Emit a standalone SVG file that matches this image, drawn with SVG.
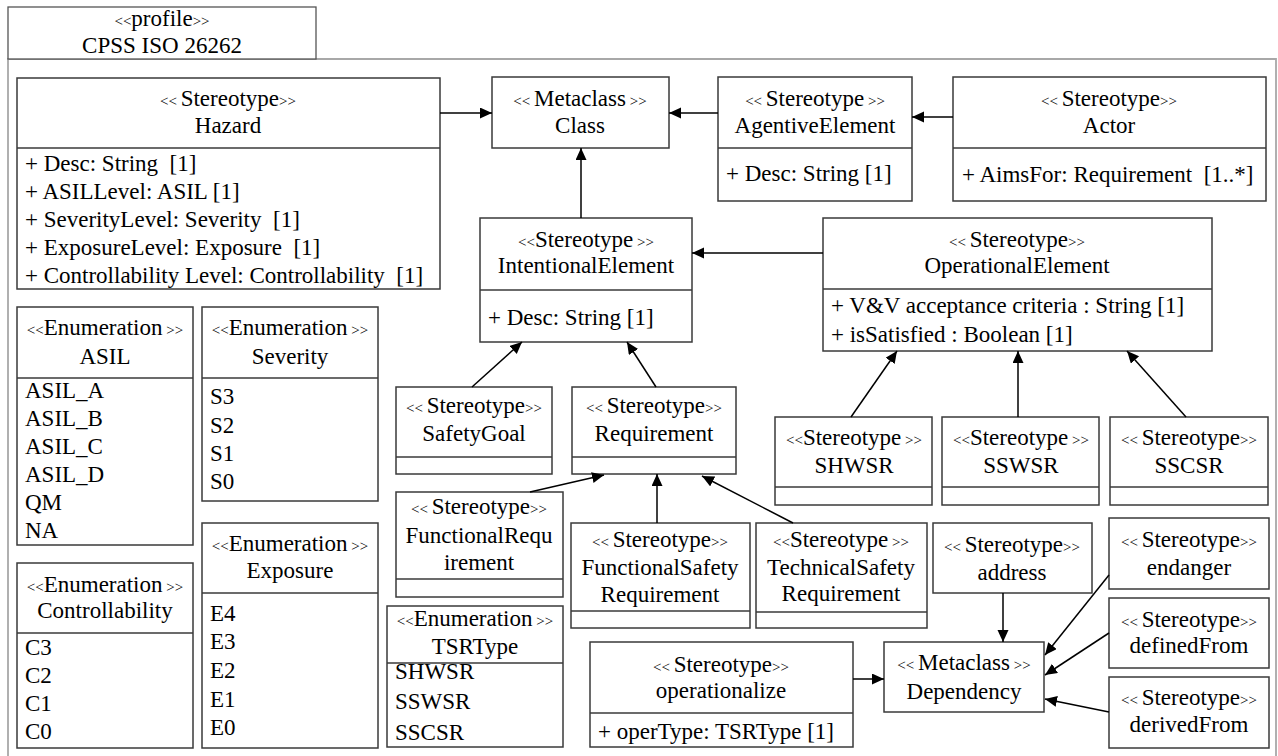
<svg xmlns="http://www.w3.org/2000/svg" width="1278" height="756" viewBox="0 0 1278 756">
<style>
.c{text-anchor:middle}
.s{font-size:15px}
.box{fill:#fff;stroke:#3a3a3a;stroke-width:1.5}
.div{stroke:#3a3a3a;stroke-width:1.5}
.frame{fill:none;stroke:#a8a8a8;stroke-width:1.8}
.conn line{stroke:#000;stroke-width:1.5;marker-end:url(#ah)}
</style>
<defs>
<marker id="ah" markerWidth="13" markerHeight="12" refX="12" refY="5.5" orient="auto" markerUnits="userSpaceOnUse">
<path d="M0,0 L12,5.5 L0,11 z" fill="#000"/>
</marker>
</defs>
<rect width="1278" height="756" fill="#fff"/>
<g font-family="Liberation Serif, Times New Roman, serif" font-size="23" fill="#000">
<g id="profile">
<path class="frame" d="M8,758 V59 H1276 V758"/>
<rect x="8" y="7" width="308" height="52" fill="#fff" stroke="#555" stroke-width="1.3"/>
<text class="c" x="162" y="26"><tspan class="s">&lt;&lt;</tspan>profile<tspan class="s">&gt;&gt;</tspan></text>
<text class="c" x="162" y="53">CPSS ISO 26262</text>
</g>
<g id="Hazard">
<rect class="box" x="17" y="78" width="423" height="211"/>
<line class="div" x1="17" y1="148" x2="440" y2="148"/>
<text class="c" x="228" y="106"><tspan class="s">&lt;&lt; </tspan>Stereotype<tspan class="s">&gt;&gt;</tspan></text>
<text class="c" x="228" y="133">Hazard</text>
<text x="25" y="171" xml:space="preserve">+ Desc: String  [1]</text>
<text x="25" y="198.5">+ ASILLevel: ASIL [1]</text>
<text x="25" y="226.5" xml:space="preserve">+ SeverityLevel: Severity  [1]</text>
<text x="25" y="254.5" xml:space="preserve">+ ExposureLevel: Exposure  [1]</text>
<text x="25" y="282.5" xml:space="preserve">+ Controllability Level: Controllability  [1]</text>
</g>
<g id="Class">
<rect class="box" x="492" y="77" width="177" height="71"/>
<text class="c" x="580" y="106"><tspan class="s">&lt;&lt; </tspan>Metaclass<tspan class="s"> &gt;&gt;</tspan></text>
<text class="c" x="580" y="133">Class</text>
</g>
<g id="AgentiveElement">
<rect class="box" x="718" y="77" width="194" height="124"/>
<line class="div" x1="718" y1="148" x2="912" y2="148"/>
<text class="c" x="815" y="106"><tspan class="s">&lt;&lt; </tspan>Stereotype<tspan class="s"> &gt;&gt;</tspan></text>
<text class="c" x="815" y="133">AgentiveElement</text>
<text x="726" y="181">+ Desc: String [1]</text>
</g>
<g id="Actor">
<rect class="box" x="953" y="77" width="313" height="124"/>
<line class="div" x1="953" y1="148" x2="1266" y2="148"/>
<text class="c" x="1109" y="106"><tspan class="s">&lt;&lt; </tspan>Stereotype<tspan class="s">&gt;&gt;</tspan></text>
<text class="c" x="1109" y="133">Actor</text>
<text x="962" y="182" xml:space="preserve">+ AimsFor: Requirement  [1..*]</text>
</g>
<g id="IntentionalElement">
<rect class="box" x="480" y="218" width="212" height="124"/>
<line class="div" x1="480" y1="290" x2="692" y2="290"/>
<text class="c" x="586" y="247"><tspan class="s">&lt;&lt;</tspan>Stereotype<tspan class="s"> &gt;&gt;</tspan></text>
<text class="c" x="586" y="273">IntentionalElement</text>
<text x="488" y="325">+ Desc: String [1]</text>
</g>
<g id="OperationalElement">
<rect class="box" x="823" y="218" width="389" height="133"/>
<line class="div" x1="823" y1="289" x2="1212" y2="289"/>
<text class="c" x="1017" y="247"><tspan class="s">&lt;&lt; </tspan>Stereotype<tspan class="s">&gt;&gt;</tspan></text>
<text class="c" x="1017" y="273">OperationalElement</text>
<text x="831" y="313">+ V&amp;V acceptance criteria : String [1]</text>
<text x="831" y="342">+ isSatisfied : Boolean [1]</text>
</g>
<g id="ASIL">
<rect class="box" x="17" y="307" width="176" height="238"/>
<line class="div" x1="17" y1="378" x2="193" y2="378"/>
<text class="c" x="105" y="335"><tspan class="s">&lt;&lt;</tspan>Enumeration<tspan class="s"> &gt;&gt;</tspan></text>
<text class="c" x="105" y="364">ASIL</text>
<text x="25" y="398">ASIL_A</text>
<text x="25" y="426">ASIL_B</text>
<text x="25" y="454">ASIL_C</text>
<text x="25" y="482">ASIL_D</text>
<text x="25" y="510">QM</text>
<text x="25" y="538">NA</text>
</g>
<g id="Severity">
<rect class="box" x="202" y="307" width="176" height="194"/>
<line class="div" x1="202" y1="378" x2="378" y2="378"/>
<text class="c" x="290" y="335"><tspan class="s">&lt;&lt;</tspan>Enumeration<tspan class="s"> &gt;&gt;</tspan></text>
<text class="c" x="290" y="364">Severity</text>
<text x="210" y="404">S3</text>
<text x="210" y="433">S2</text>
<text x="210" y="461">S1</text>
<text x="210" y="489">S0</text>
</g>
<g id="Controllability">
<rect class="box" x="17" y="563" width="176" height="185"/>
<line class="div" x1="17" y1="633" x2="193" y2="633"/>
<text class="c" x="105" y="592"><tspan class="s">&lt;&lt;</tspan>Enumeration<tspan class="s"> &gt;&gt;</tspan></text>
<text class="c" x="105" y="618">Controllability</text>
<text x="25" y="655">C3</text>
<text x="25" y="683">C2</text>
<text x="25" y="711">C1</text>
<text x="25" y="739">C0</text>
</g>
<g id="Exposure">
<rect class="box" x="202" y="523" width="176" height="225"/>
<line class="div" x1="202" y1="593" x2="378" y2="593"/>
<text class="c" x="290" y="551"><tspan class="s">&lt;&lt;</tspan>Enumeration<tspan class="s"> &gt;&gt;</tspan></text>
<text class="c" x="290" y="578">Exposure</text>
<text x="210" y="621">E4</text>
<text x="210" y="649">E3</text>
<text x="210" y="678">E2</text>
<text x="210" y="707">E1</text>
<text x="210" y="735">E0</text>
</g>
<g id="SafetyGoal">
<rect class="box" x="396" y="387" width="156" height="87"/>
<line class="div" x1="396" y1="457" x2="552" y2="457"/>
<text class="c" x="474" y="413"><tspan class="s">&lt;&lt; </tspan>Stereotype<tspan class="s">&gt;&gt;</tspan></text>
<text class="c" x="474" y="441">SafetyGoal</text>
</g>
<g id="Requirement">
<rect class="box" x="572" y="387" width="164" height="87"/>
<line class="div" x1="572" y1="457" x2="736" y2="457"/>
<text class="c" x="654" y="413"><tspan class="s">&lt;&lt; </tspan>Stereotype<tspan class="s">&gt;&gt;</tspan></text>
<text class="c" x="654" y="441">Requirement</text>
</g>
<g id="FunctionalRequirement">
<rect class="box" x="396" y="492" width="167" height="105"/>
<line class="div" x1="396" y1="579" x2="563" y2="579"/>
<text class="c" x="479" y="514"><tspan class="s">&lt;&lt; </tspan>Stereotype<tspan class="s">&gt;&gt;</tspan></text>
<text class="c" x="479" y="543">FunctionalRequ</text>
<text class="c" x="479" y="570">irement</text>
</g>
<g id="FunctionalSafetyRequirement">
<rect class="box" x="571" y="523" width="179" height="105"/>
<line class="div" x1="571" y1="611" x2="750" y2="611"/>
<text class="c" x="660" y="547"><tspan class="s">&lt;&lt; </tspan>Stereotype<tspan class="s">&gt;&gt;</tspan></text>
<text class="c" x="660" y="575">FunctionalSafety</text>
<text class="c" x="660" y="602">Requirement</text>
</g>
<g id="TechnicalSafetyRequirement">
<rect class="box" x="756" y="523" width="171" height="105"/>
<line class="div" x1="756" y1="612" x2="927" y2="612"/>
<text class="c" x="841" y="547"><tspan class="s">&lt;&lt;</tspan>Stereotype<tspan class="s"> &gt;&gt;</tspan></text>
<text class="c" x="841" y="575">TechnicalSafety</text>
<text class="c" x="841" y="601">Requirement</text>
</g>
<g id="SHWSR">
<rect class="box" x="775" y="417" width="157" height="88"/>
<line class="div" x1="775" y1="487" x2="932" y2="487"/>
<text class="c" x="854" y="445"><tspan class="s">&lt;&lt;</tspan>Stereotype<tspan class="s"> &gt;&gt;</tspan></text>
<text class="c" x="854" y="473">SHWSR</text>
</g>
<g id="SSWSR">
<rect class="box" x="942" y="417" width="157" height="88"/>
<line class="div" x1="942" y1="487" x2="1099" y2="487"/>
<text class="c" x="1021" y="445"><tspan class="s">&lt;&lt;</tspan>Stereotype<tspan class="s"> &gt;&gt;</tspan></text>
<text class="c" x="1021" y="473">SSWSR</text>
</g>
<g id="SSCSR">
<rect class="box" x="1110" y="417" width="158" height="88"/>
<line class="div" x1="1110" y1="487" x2="1268" y2="487"/>
<text class="c" x="1189" y="445"><tspan class="s">&lt;&lt; </tspan>Stereotype<tspan class="s">&gt;&gt;</tspan></text>
<text class="c" x="1189" y="473">SSCSR</text>
</g>
<g id="address">
<rect class="box" x="933" y="523" width="159" height="70"/>
<text class="c" x="1012" y="552"><tspan class="s">&lt;&lt; </tspan>Stereotype<tspan class="s">&gt;&gt;</tspan></text>
<text class="c" x="1012" y="580">address</text>
</g>
<g id="endanger">
<rect class="box" x="1109" y="518" width="160" height="71"/>
<text class="c" x="1189" y="547"><tspan class="s">&lt;&lt; </tspan>Stereotype<tspan class="s">&gt;&gt;</tspan></text>
<text class="c" x="1189" y="575">endanger</text>
</g>
<g id="definedFrom">
<rect class="box" x="1109" y="598" width="160" height="70"/>
<text class="c" x="1189" y="627"><tspan class="s">&lt;&lt; </tspan>Stereotype<tspan class="s">&gt;&gt;</tspan></text>
<text class="c" x="1189" y="653">definedFrom</text>
</g>
<g id="derivedFrom">
<rect class="box" x="1109" y="677" width="160" height="71"/>
<text class="c" x="1189" y="705"><tspan class="s">&lt;&lt; </tspan>Stereotype<tspan class="s">&gt;&gt;</tspan></text>
<text class="c" x="1189" y="732">derivedFrom</text>
</g>
<g id="Dependency">
<rect class="box" x="884" y="642" width="160" height="70"/>
<text class="c" x="964" y="670"><tspan class="s">&lt;&lt; </tspan>Metaclass<tspan class="s"> &gt;&gt;</tspan></text>
<text class="c" x="964" y="699">Dependency</text>
</g>
<g id="operationalize">
<rect class="box" x="590" y="642" width="263" height="105"/>
<line class="div" x1="590" y1="713" x2="853" y2="713"/>
<text class="c" x="721" y="672"><tspan class="s">&lt;&lt; </tspan>Stereotype<tspan class="s">&gt;&gt;</tspan></text>
<text class="c" x="721" y="698">operationalize</text>
<text x="598" y="739">+ operType: TSRType [1]</text>
</g>
<g id="TSRType">
<rect class="box" x="387" y="606" width="176" height="141"/>
<line class="div" x1="387" y1="663" x2="563" y2="663"/>
<text class="c" x="475" y="626"><tspan class="s">&lt;&lt;</tspan>Enumeration<tspan class="s"> &gt;&gt;</tspan></text>
<text class="c" x="475" y="654">TSRType</text>
<text x="395" y="679">SHWSR</text>
<text x="395" y="709">SSWSR</text>
<text x="395" y="740">SSCSR</text>
</g>
</g>
<g id="connectors" class="conn">
<line x1="440" y1="113" x2="492" y2="113"/>
<line x1="718" y1="113" x2="669" y2="113"/>
<line x1="953" y1="117" x2="912" y2="117"/>
<line x1="581" y1="218" x2="581" y2="148"/>
<line x1="823" y1="253" x2="692" y2="253"/>
<line x1="472" y1="387" x2="522" y2="342"/>
<line x1="656" y1="387" x2="627" y2="342"/>
<line x1="530" y1="492" x2="604" y2="475"/>
<line x1="657" y1="523" x2="657" y2="474"/>
<line x1="793" y1="523" x2="702" y2="476"/>
<line x1="851" y1="417" x2="897" y2="351"/>
<line x1="1018" y1="417" x2="1018" y2="351"/>
<line x1="1186" y1="417" x2="1127" y2="351"/>
<line x1="1003" y1="593" x2="1003" y2="642"/>
<line x1="1109" y1="575" x2="1045" y2="655"/>
<line x1="1109" y1="633" x2="1045" y2="675"/>
<line x1="1109" y1="712" x2="1045" y2="699"/>
<line x1="853" y1="679" x2="884" y2="679"/>
</g>
</svg>
